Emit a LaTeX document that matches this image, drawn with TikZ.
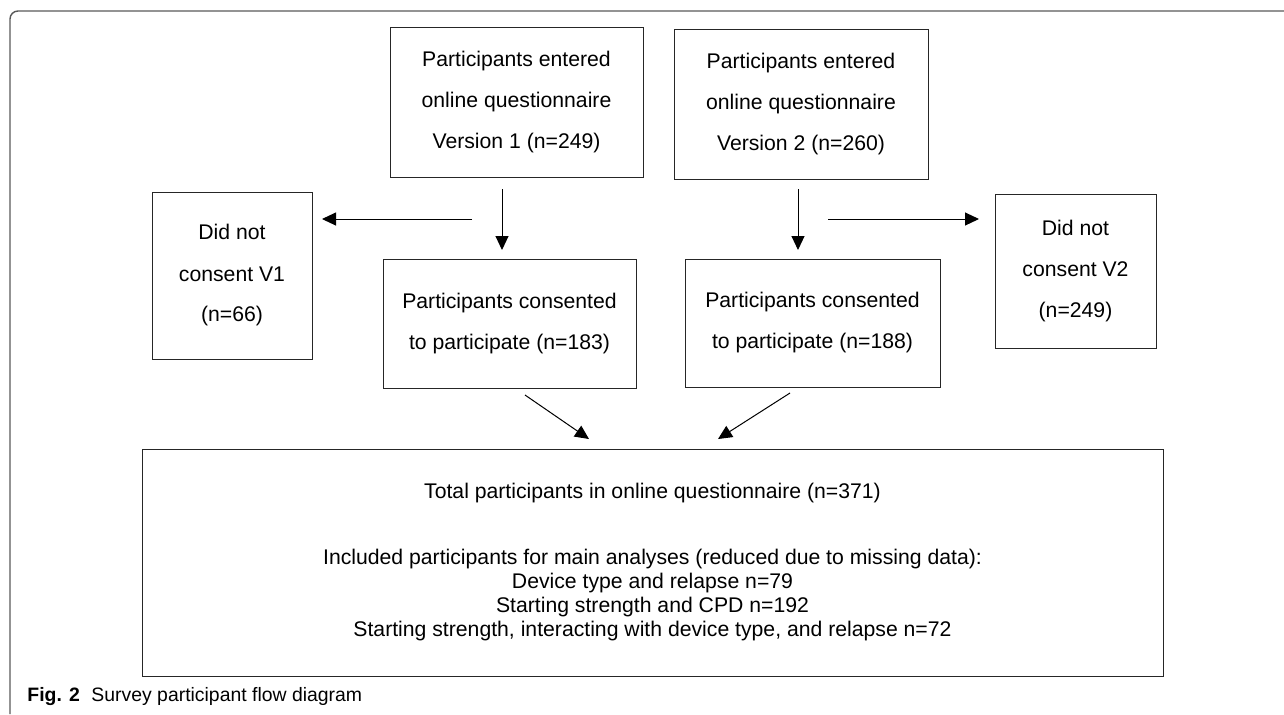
\documentclass[tikz,border=0pt]{standalone}
\usepackage{fontspec}
\setmainfont{Liberation Sans}
\usetikzlibrary{arrows.meta}
\tikzset{
  flowbox/.style={draw=black!85, line width=0.5pt, align=center, inner sep=0pt,
    font=\fontsize{10.6}{20.5}\selectfont},
  flowarrow/.style={line width=0.5pt, -{Triangle[length=7pt,width=6.5pt]}},
}
\begin{document}
\begin{tikzpicture}[x=0.5pt, y=-0.5pt]
  \useasboundingbox (0,0) rectangle (1284,714);
  % frame
  \draw[black!65, line width=0.7pt, rounded corners=4pt] (10,714) -- (10,11) -- (1284,11);
  % questionnaire versions
  \node[flowbox, minimum width=126.5pt, minimum height=75pt] (v1entered) at (516.5,102)
    {Participants entered\\online questionnaire\\Version 1 (n=249)};
  \node[flowbox, minimum width=127pt, minimum height=75pt] (v2entered) at (801,104)
    {Participants entered\\online questionnaire\\Version 2 (n=260)};
  % no consent
  \node[flowbox, minimum width=80pt, minimum height=83.5pt] (v1refused) at (232,275.5)
    {Did not\\consent V1\\(n=66)};
  \node[flowbox, minimum width=80.5pt, minimum height=77pt] (v2refused) at (1075.5,271)
    {Did not\\consent V2\\(n=249)};
  % consented
  \node[flowbox, minimum width=126.5pt, minimum height=64.5pt] (v1consent) at (509.5,323.5)
    {Participants consented\\to participate (n=183)};
  \node[flowbox, minimum width=127.5pt, minimum height=64pt] (v2consent) at (812.5,323)
    {Participants consented\\to participate (n=188)};
  % total
  \node[flowbox, minimum width=510.5pt, minimum height=113.5pt,
    font=\fontsize{10.6}{12}\selectfont] (total) at (652.5,562.5)
    {Total participants in online questionnaire (n=371)\\[21pt]
     Included participants for main analyses (reduced due to missing data):\\
     Device type and relapse n=79\\
     Starting strength and CPD n=192\\
     Starting strength, interacting with device type, and relapse n=72};
  % arrow ends
  \foreach \nm/\x/\y in {v1down/502/189, v1tip/502/250, v1left/472/219, v1lefttip/322/219,
      v2down/798/189, v2tip/798/250, v2right/828/219, v2righttip/979/219,
      v1join/525/395, v1jointip/589/439, v2join/790/393, v2jointip/718/439}
    \coordinate (\nm) at (\x,\y);
  \draw[flowarrow] (v1down) -- (v1tip);
  \draw[flowarrow] (v1left) -- (v1lefttip);
  \draw[flowarrow] (v2down) -- (v2tip);
  \draw[flowarrow] (v2right) -- (v2righttip);
  \draw[flowarrow] (v1join) -- (v1jointip);
  \draw[flowarrow] (v2join) -- (v2jointip);
  % caption
  \node[anchor=base west, inner sep=0pt, font=\fontsize{9.7}{12}\selectfont] (caption) at (27,701)
    {\textbf{Fig. 2}\hspace{0.6em}Survey participant flow diagram};
\end{tikzpicture}
\end{document}
